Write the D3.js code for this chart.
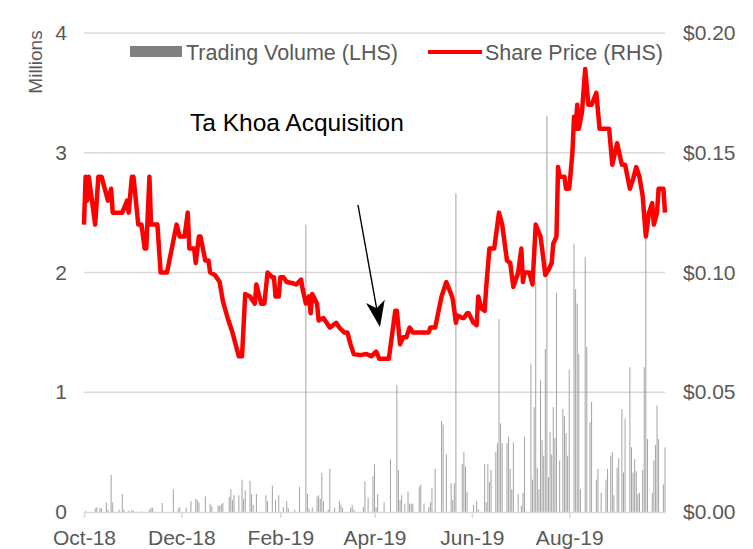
<!DOCTYPE html>
<html>
<head>
<meta charset="utf-8">
<script src="https://cdnjs.cloudflare.com/ajax/libs/d3/7.8.5/d3.min.js"></script>
<style>
  body { margin: 0; background: #fff; }
  text { font-family: "Liberation Sans", Arial, sans-serif; }
</style>
</head>
<body>
<svg id="chart" width="753" height="549"></svg>
<script>
// share price (A$)
var priceDates = ["2018-10-01","2018-10-02","2018-10-03","2018-10-04","2018-10-08","2018-10-10","2018-10-12","2018-10-16","2018-10-18","2018-10-19",
  "2018-10-25","2018-10-28","2018-10-29","2018-10-31","2018-11-01","2018-11-04","2018-11-06","2018-11-08","2018-11-09","2018-11-11",
  "2018-11-12","2018-11-16","2018-11-18","2018-11-22","2018-11-28","2018-11-30","2018-12-03","2018-12-05","2018-12-06","2018-12-09",
  "2018-12-10","2018-12-12","2018-12-13","2018-12-16","2018-12-18","2018-12-19","2018-12-22","2018-12-25","2018-12-27","2018-12-30",
  "2019-01-02","2019-01-06","2019-01-08","2019-01-10","2019-01-13","2019-01-16","2019-01-17","2019-01-20","2019-01-22","2019-01-24",
  "2019-01-27","2019-01-28","2019-01-29","2019-01-31","2019-02-01","2019-02-03","2019-02-05","2019-02-09","2019-02-11","2019-02-14",
  "2019-02-15","2019-02-17","2019-02-19","2019-02-20","2019-02-21","2019-02-24","2019-02-25","2019-02-28","2019-03-02","2019-03-04",
  "2019-03-08","2019-03-10","2019-03-13","2019-03-15","2019-03-17","2019-03-19","2019-03-23","2019-03-27","2019-03-30","2019-04-02",
  "2019-04-04","2019-04-10","2019-04-14","2019-04-15","2019-04-17","2019-04-19","2019-04-21","2019-04-23","2019-04-25","2019-05-05",
  "2019-05-06","2019-05-09","2019-05-13","2019-05-16","2019-05-19","2019-05-20","2019-05-22","2019-05-23","2019-05-26","2019-05-27",
  "2019-05-29","2019-05-30","2019-06-02","2019-06-04","2019-06-05","2019-06-07","2019-06-09","2019-06-10","2019-06-12","2019-06-15",
  "2019-06-18","2019-06-20","2019-06-23","2019-06-25","2019-06-27","2019-06-30","2019-07-02","2019-07-03","2019-07-04","2019-07-07",
  "2019-07-09","2019-07-11","2019-07-14","2019-07-15","2019-07-17","2019-07-19","2019-07-21","2019-07-22","2019-07-24","2019-07-25",
  "2019-07-26","2019-07-29","2019-07-30","2019-08-01","2019-08-03","2019-08-04","2019-08-05","2019-08-06","2019-08-07","2019-08-09",
  "2019-08-11","2019-08-13","2019-08-15","2019-08-18","2019-08-20","2019-08-26","2019-08-28","2019-08-31","2019-09-03","2019-09-05",
  "2019-09-08","2019-09-10","2019-09-12","2019-09-14","2019-09-16","2019-09-18","2019-09-20","2019-09-22","2019-09-23","2019-09-25",
  "2019-09-26","2019-09-29","2019-09-30"];
var priceValues = [0.12,0.14,0.13,0.14,0.12,0.14,0.14,0.13,0.135,0.125,
  0.125,0.13,0.125,0.14,0.14,0.12,0.12,0.11,0.11,0.14,
  0.12,0.12,0.10,0.10,0.12,0.115,0.115,0.125,0.11,0.11,
  0.104,0.115,0.115,0.105,0.105,0.10,0.099,0.096,0.088,0.081,
  0.075,0.065,0.065,0.091,0.090,0.087,0.095,0.087,0.087,0.10,
  0.098,0.098,0.090,0.090,0.098,0.098,0.096,0.0955,0.095,0.097,
  0.093,0.087,0.090,0.083,0.091,0.087,0.080,0.081,0.079,0.077,
  0.079,0.077,0.075,0.075,0.070,0.066,0.0655,0.066,0.065,0.067,
  0.064,0.064,0.084,0.084,0.070,0.073,0.073,0.077,0.075,0.075,
  0.077,0.077,0.090,0.096,0.091,0.089,0.079,0.082,0.081,0.081,
  0.083,0.083,0.079,0.078,0.090,0.085,0.084,0.094,0.110,0.110,
  0.125,0.120,0.105,0.104,0.094,0.100,0.110,0.096,0.100,0.100,
  0.095,0.120,0.115,0.110,0.099,0.101,0.104,0.112,0.115,0.144,
  0.140,0.140,0.135,0.135,0.150,0.165,0.160,0.170,0.160,0.167,
  0.185,0.170,0.170,0.175,0.160,0.160,0.145,0.154,0.145,0.145,
  0.135,0.139,0.144,0.140,0.132,0.115,0.125,0.129,0.120,0.125,
  0.135,0.135,0.125];

// trading volume (millions of shares)
var volDates = ["2018-10-02","2018-10-08","2018-10-09","2018-10-11","2018-10-12","2018-10-15","2018-10-16","2018-10-18","2018-10-19","2018-10-23",
  "2018-10-25","2018-10-26","2018-10-29","2018-10-31","2018-11-01","2018-11-06","2018-11-11","2018-11-12","2018-11-13","2018-11-19",
  "2018-11-26","2018-11-29","2018-11-30","2018-12-04","2018-12-07","2018-12-10","2018-12-11","2018-12-12","2018-12-16","2018-12-19",
  "2018-12-20","2018-12-24","2018-12-25","2018-12-26","2018-12-27","2018-12-31","2019-01-01","2019-01-02","2019-01-03","2019-01-06",
  "2019-01-08","2019-01-09","2019-01-10","2019-01-13","2019-01-14","2019-01-15","2019-01-17","2019-01-23","2019-01-24","2019-01-27",
  "2019-01-29","2019-01-31","2019-02-03","2019-02-05","2019-02-06","2019-02-10","2019-02-13","2019-02-17","2019-02-18","2019-02-19",
  "2019-02-21","2019-02-24","2019-02-25","2019-02-26","2019-02-27","2019-02-28","2019-03-03","2019-03-04","2019-03-07","2019-03-10",
  "2019-03-11","2019-03-12","2019-03-17","2019-03-18","2019-03-19","2019-03-25","2019-03-26","2019-03-28","2019-03-31","2019-04-01",
  "2019-04-02","2019-04-03","2019-04-07","2019-04-11","2019-04-15","2019-04-16","2019-04-17","2019-04-18","2019-04-20","2019-04-22",
  "2019-04-23","2019-04-24","2019-04-25","2019-04-29","2019-04-30","2019-05-02","2019-05-05","2019-05-06","2019-05-07","2019-05-09",
  "2019-05-13","2019-05-14","2019-05-16","2019-05-19","2019-05-20","2019-05-21","2019-05-22","2019-05-26","2019-05-27","2019-05-28",
  "2019-05-29","2019-06-02","2019-06-04","2019-06-05","2019-06-09","2019-06-10","2019-06-11","2019-06-12","2019-06-13","2019-06-16",
  "2019-06-17","2019-06-18","2019-06-19","2019-06-20","2019-06-23","2019-06-24","2019-06-25","2019-06-26","2019-06-27","2019-06-30",
  "2019-07-02","2019-07-03","2019-07-04","2019-07-08","2019-07-09","2019-07-10","2019-07-11","2019-07-12","2019-07-13","2019-07-14",
  "2019-07-15","2019-07-16","2019-07-17","2019-07-18","2019-07-19","2019-07-20","2019-07-21","2019-07-22","2019-07-23","2019-07-24",
  "2019-07-26","2019-07-28","2019-07-29","2019-07-30","2019-07-31","2019-08-01","2019-08-04","2019-08-05","2019-08-06","2019-08-07",
  "2019-08-08","2019-08-11","2019-08-12","2019-08-14","2019-08-15","2019-08-18","2019-08-19","2019-08-21","2019-08-24","2019-08-25",
  "2019-08-27","2019-08-28","2019-08-29","2019-08-31","2019-09-01","2019-09-03","2019-09-04","2019-09-05","2019-09-08","2019-09-09",
  "2019-09-10","2019-09-11","2019-09-12","2019-09-13","2019-09-14","2019-09-16","2019-09-17","2019-09-18","2019-09-19","2019-09-22",
  "2019-09-23","2019-09-24","2019-09-25","2019-09-26","2019-09-29","2019-09-30"];
var volValues = [0.01,0.03,0.04,0.035,0.03,0.08,0.02,0.31,0.08,0.02,
  0.15,0.02,0.01,0.02,0.01,0.005,0.02,0.035,0.035,0.075,
  0.19,0.03,0.04,0.035,0.09,0.11,0.10,0.08,0.13,0.07,
  0.05,0.055,0.05,0.065,0.075,0.125,0.19,0.10,0.14,0.14,
  0.27,0.11,0.18,0.26,0.15,0.06,0.15,0.14,0.09,0.22,
  0.10,0.14,0.04,0.09,0.03,0.02,0.21,2.40,0.15,0.03,
  0.04,0.13,0.14,0.11,0.325,0.09,0.02,0.36,0.035,0.09,
  0.06,0.035,0.035,0.06,0.02,0.04,0.255,0.12,0.30,0.40,
  0.04,0.15,0.08,0.44,1.06,0.35,0.10,0.14,0.07,0.17,
  0.07,0.07,0.07,0.21,0.23,0.07,0.04,0.08,0.20,0.36,
  0.76,0.73,0.48,0.24,0.10,0.24,2.66,0.40,0.50,0.38,
  0.17,0.06,0.09,0.02,0.40,0.08,0.40,0.25,0.35,0.50,
  0.575,1.61,0.74,0.575,0.575,0.63,0.36,0.19,0.58,0.15,
  0.05,0.16,0.63,1.24,0.27,0.875,1.92,0.37,0.19,1.10,
  0.60,0.47,1.36,3.31,0.29,0.67,0.48,0.875,0.62,1.83,
  0.43,0.86,0.80,0.66,0.47,1.19,2.24,1.86,1.74,1.32,
  0.19,2.13,1.38,0.75,0.92,0.27,0.36,0.16,0.27,0.36,
  0.47,0.50,0.14,0.37,0.45,0.86,0.33,0.78,1.21,0.54,
  0.33,0.44,0.34,0.15,0.16,0.35,1.21,2.28,0.61,0.16,
  0.43,0.56,0.89,0.61,0.23,0.54];

var volTicks = [0, 1, 2, 3, 4];
var priceTicks = [0, 0.05, 0.10, 0.15, 0.20];
var monthTicks = ["2018-10-01","2018-12-01","2019-02-01","2019-04-01","2019-06-01","2019-08-01"];

var parse = d3.timeParse("%Y-%m-%d");
var prices = priceDates.map(function(d, i) { return {date: parse(d), value: priceValues[i]}; });
var volumes = volDates.map(function(d, i) { return {date: parse(d), value: volValues[i]}; });

var svg = d3.select("#chart");
var plot = {left: 84, right: 665, top: 33, bottom: 512};

var x = d3.scaleTime().domain([parse("2018-10-01"), parse("2019-09-30")]).range([plot.left, plot.right]);
var yVol = d3.scaleLinear().domain([0, 4]).range([plot.bottom, plot.top]);
var yPrice = d3.scaleLinear().domain([0, 0.2]).range([plot.bottom, plot.top]);

// gridlines
svg.append("g")
  .selectAll("line")
  .data(volTicks.filter(function(d) { return d > 0; }))
  .enter().append("line")
  .attr("x1", plot.left).attr("x2", plot.right)
  .attr("y1", function(d) { return yVol(d); })
  .attr("y2", function(d) { return yVol(d); })
  .attr("stroke", "#d9d9d9")
  .attr("stroke-width", 1.5);

// volume bars
svg.append("g")
  .selectAll("rect")
  .data(volumes)
  .enter().append("rect")
  .attr("x", function(d) { return x(d.date) - 0.5; })
  .attr("width", 1)
  .attr("y", function(d) { return yVol(d.value); })
  .attr("height", function(d) { return plot.bottom - yVol(d.value); })
  .attr("fill", "#a3a3a3");

// x axis
var xAxis = svg.append("g")
  .attr("transform", "translate(0," + plot.bottom + ")")
  .call(d3.axisBottom(x)
    .tickValues(monthTicks.map(parse))
    .tickFormat(d3.timeFormat("%b-%y"))
    .tickSize(6)
    .tickPadding(12)
    .tickSizeOuter(0));
xAxis.select(".domain").attr("stroke", "#d9d9d9").attr("stroke-width", 1.5);
xAxis.selectAll(".tick line").attr("stroke", "#d9d9d9").attr("stroke-width", 1.5);
xAxis.selectAll(".tick text")
  .attr("fill", "#595959")
  .style("font-size", "21px")
  .style("font-family", "Liberation Sans, Arial, sans-serif");

// left axis
var yAxisL = svg.append("g")
  .attr("transform", "translate(" + (plot.left - 17) + ",0)")
  .call(d3.axisLeft(yVol).tickValues(volTicks).tickSize(0).tickPadding(0).tickFormat(d3.format("d")));
yAxisL.select(".domain").remove();
yAxisL.selectAll("text")
  .attr("fill", "#595959")
  .style("font-size", "21px")
  .style("font-family", "Liberation Sans, Arial, sans-serif");

// right axis
var yAxisR = svg.append("g")
  .attr("transform", "translate(" + (plot.right + 18) + ",0)")
  .call(d3.axisRight(yPrice).tickValues(priceTicks).tickSize(0).tickPadding(0)
    .tickFormat(function(d) { return "$" + d3.format(".2f")(d); }));
yAxisR.select(".domain").remove();
yAxisR.selectAll("text")
  .attr("fill", "#595959")
  .style("font-size", "21px")
  .style("font-family", "Liberation Sans, Arial, sans-serif");

svg.append("text")
  .attr("transform", "translate(42,62) rotate(-90)")
  .attr("text-anchor", "middle")
  .attr("fill", "#595959")
  .style("font-size", "19px")
  .text("Millions");

// share price line
var line = d3.line()
  .x(function(d) { return x(d.date); })
  .y(function(d) { return yPrice(d.value); });

svg.append("path")
  .datum(prices)
  .attr("d", line)
  .attr("fill", "none")
  .attr("stroke", "#ff0000")
  .attr("stroke-width", 4.5)
  .attr("stroke-linejoin", "round");

// legend
var legend = svg.append("g");
legend.append("rect")
  .attr("x", 130).attr("y", 46).attr("width", 52).attr("height", 11)
  .attr("fill", "#808080");
legend.append("text")
  .attr("x", 186).attr("y", 60)
  .attr("fill", "#595959")
  .style("font-size", "21.5px")
  .text("Trading Volume (LHS)");
legend.append("line")
  .attr("x1", 428).attr("x2", 482).attr("y1", 52).attr("y2", 52)
  .attr("stroke", "#ff0000").attr("stroke-width", 4);
legend.append("text")
  .attr("x", 485).attr("y", 60)
  .attr("fill", "#595959")
  .style("font-size", "21.5px")
  .text("Share Price (RHS)");

// annotation arrow (drawn as line + filled head)
var arrow = {x1: 358, y1: 205, x2: 380, y2: 327, len: 26, half: 9.5, notch: 7};
var ang = Math.atan2(arrow.y2 - arrow.y1, arrow.x2 - arrow.x1);
var ux = Math.cos(ang), uy = Math.sin(ang);
var bx = arrow.x2 - ux * arrow.len, by = arrow.y2 - uy * arrow.len;
var nx = arrow.x2 - ux * (arrow.len - arrow.notch), ny = arrow.y2 - uy * (arrow.len - arrow.notch);

svg.append("line")
  .attr("x1", arrow.x1).attr("y1", arrow.y1)
  .attr("x2", nx).attr("y2", ny)
  .attr("stroke", "#000")
  .attr("stroke-width", 1.4);

svg.append("path")
  .attr("d", "M" + arrow.x2 + "," + arrow.y2 +
    "L" + (bx - uy * arrow.half) + "," + (by + ux * arrow.half) +
    "L" + nx + "," + ny +
    "L" + (bx + uy * arrow.half) + "," + (by - ux * arrow.half) + "Z")
  .attr("fill", "#000");

svg.append("text")
  .attr("x", 190).attr("y", 131)
  .attr("fill", "#000")
  .style("font-size", "24.5px")
  .text("Ta Khoa Acquisition");
</script>
</body>
</html>
